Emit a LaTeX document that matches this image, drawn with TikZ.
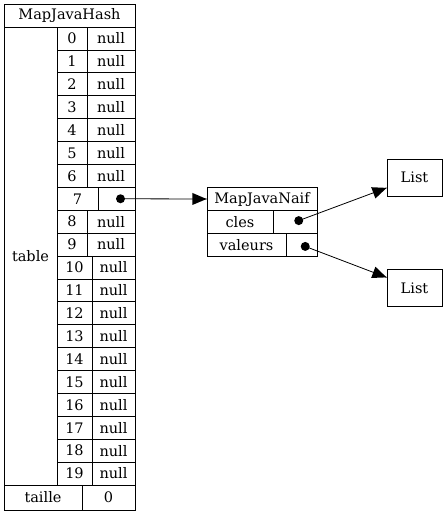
\documentclass[tikz,border=0pt]{standalone}
\usepackage{fontspec}
\setmainfont{DejaVu Serif}
\usetikzlibrary{positioning,calc,arrows,decorations.markings}
\tikzset{
  cell/.style={draw=black, line width=0.8pt, inner sep=0pt,
    font=\fontsize{14.5}{16}\selectfont},
  pointer/.style={line width=0.8pt, draw=black, postaction={decorate},
    decoration={markings,mark=at position 1 with {\arrow[black,scale=1.8]{triangle 45}}}},
  dot/.style={fill=black}
}

\begin{document}
\begin{tikzpicture}[x=1pt, y=-1pt]
    \useasboundingbox (0,0) rectangle (446,515);

    % MapJavaHash
    \node[cell, minimum width=131, minimum height=23] (hash) at (69.5,15.5) {MapJavaHash};
    \node[cell, minimum width=53, minimum height=458] (table) at (30.5,256) {table};
    \foreach \i in {0,...,19} {
      \pgfmathsetmacro{\yc}{27+22.9*(\i+0.5)}
      \pgfmathsetmacro{\xd}{\i==7 ? 98 : (\i<10 ? 87 : 92)}
      \node[cell, minimum width={\xd-57}, minimum height=22.9] (idx\i) at ({(57+\xd)/2},\yc) {\i};
      \node[cell, minimum width={135-\xd}, minimum height=22.9] (val\i) at ({(\xd+135)/2},\yc) {\ifnum\i=7 \else null\fi};
    }
    \node[cell, minimum width=78, minimum height=25] (taille) at (43,497.5) {taille};
    \node[cell, minimum width=53, minimum height=25] (tailleval) at (108.5,497.5) {0};

    % MapJavaNaif
    \node[cell, minimum width=110, minimum height=23.4] (naif) at (262,199) {MapJavaNaif};
    \node[cell, minimum width=66, minimum height=23.4] (cles) at (240,222) {cles};
    \node[cell, minimum width=44, minimum height=23.4] (clesval) at (295,222) {};
    \node[cell, minimum width=79, minimum height=23.4] (valeurs) at (246.5,245) {valeurs};
    \node[cell, minimum width=31, minimum height=23.4] (valeursval) at (301.5,245) {};

    \node[cell, minimum width=55, minimum height=37] (list1) at (414.5,177.5) {List};
    \node[cell, minimum width=55, minimum height=37] (list2) at (414.5,288) {List};

    \draw[pointer] (val7.center) -- (naif.west);
    \draw[pointer] (clesval.center) -- (list1);
    \draw[pointer] (valeursval.center) -- (list2);

    \fill[dot] ($(val7.center)!4pt!(naif.west)$) circle (4.5pt);
    \fill[dot] ($(clesval.center)!4pt!(list1.center)$) circle (4.5pt);
    \fill[dot] ($(valeursval.center)!4pt!(list2.center)$) circle (4.5pt);
\end{tikzpicture}
\end{document}
